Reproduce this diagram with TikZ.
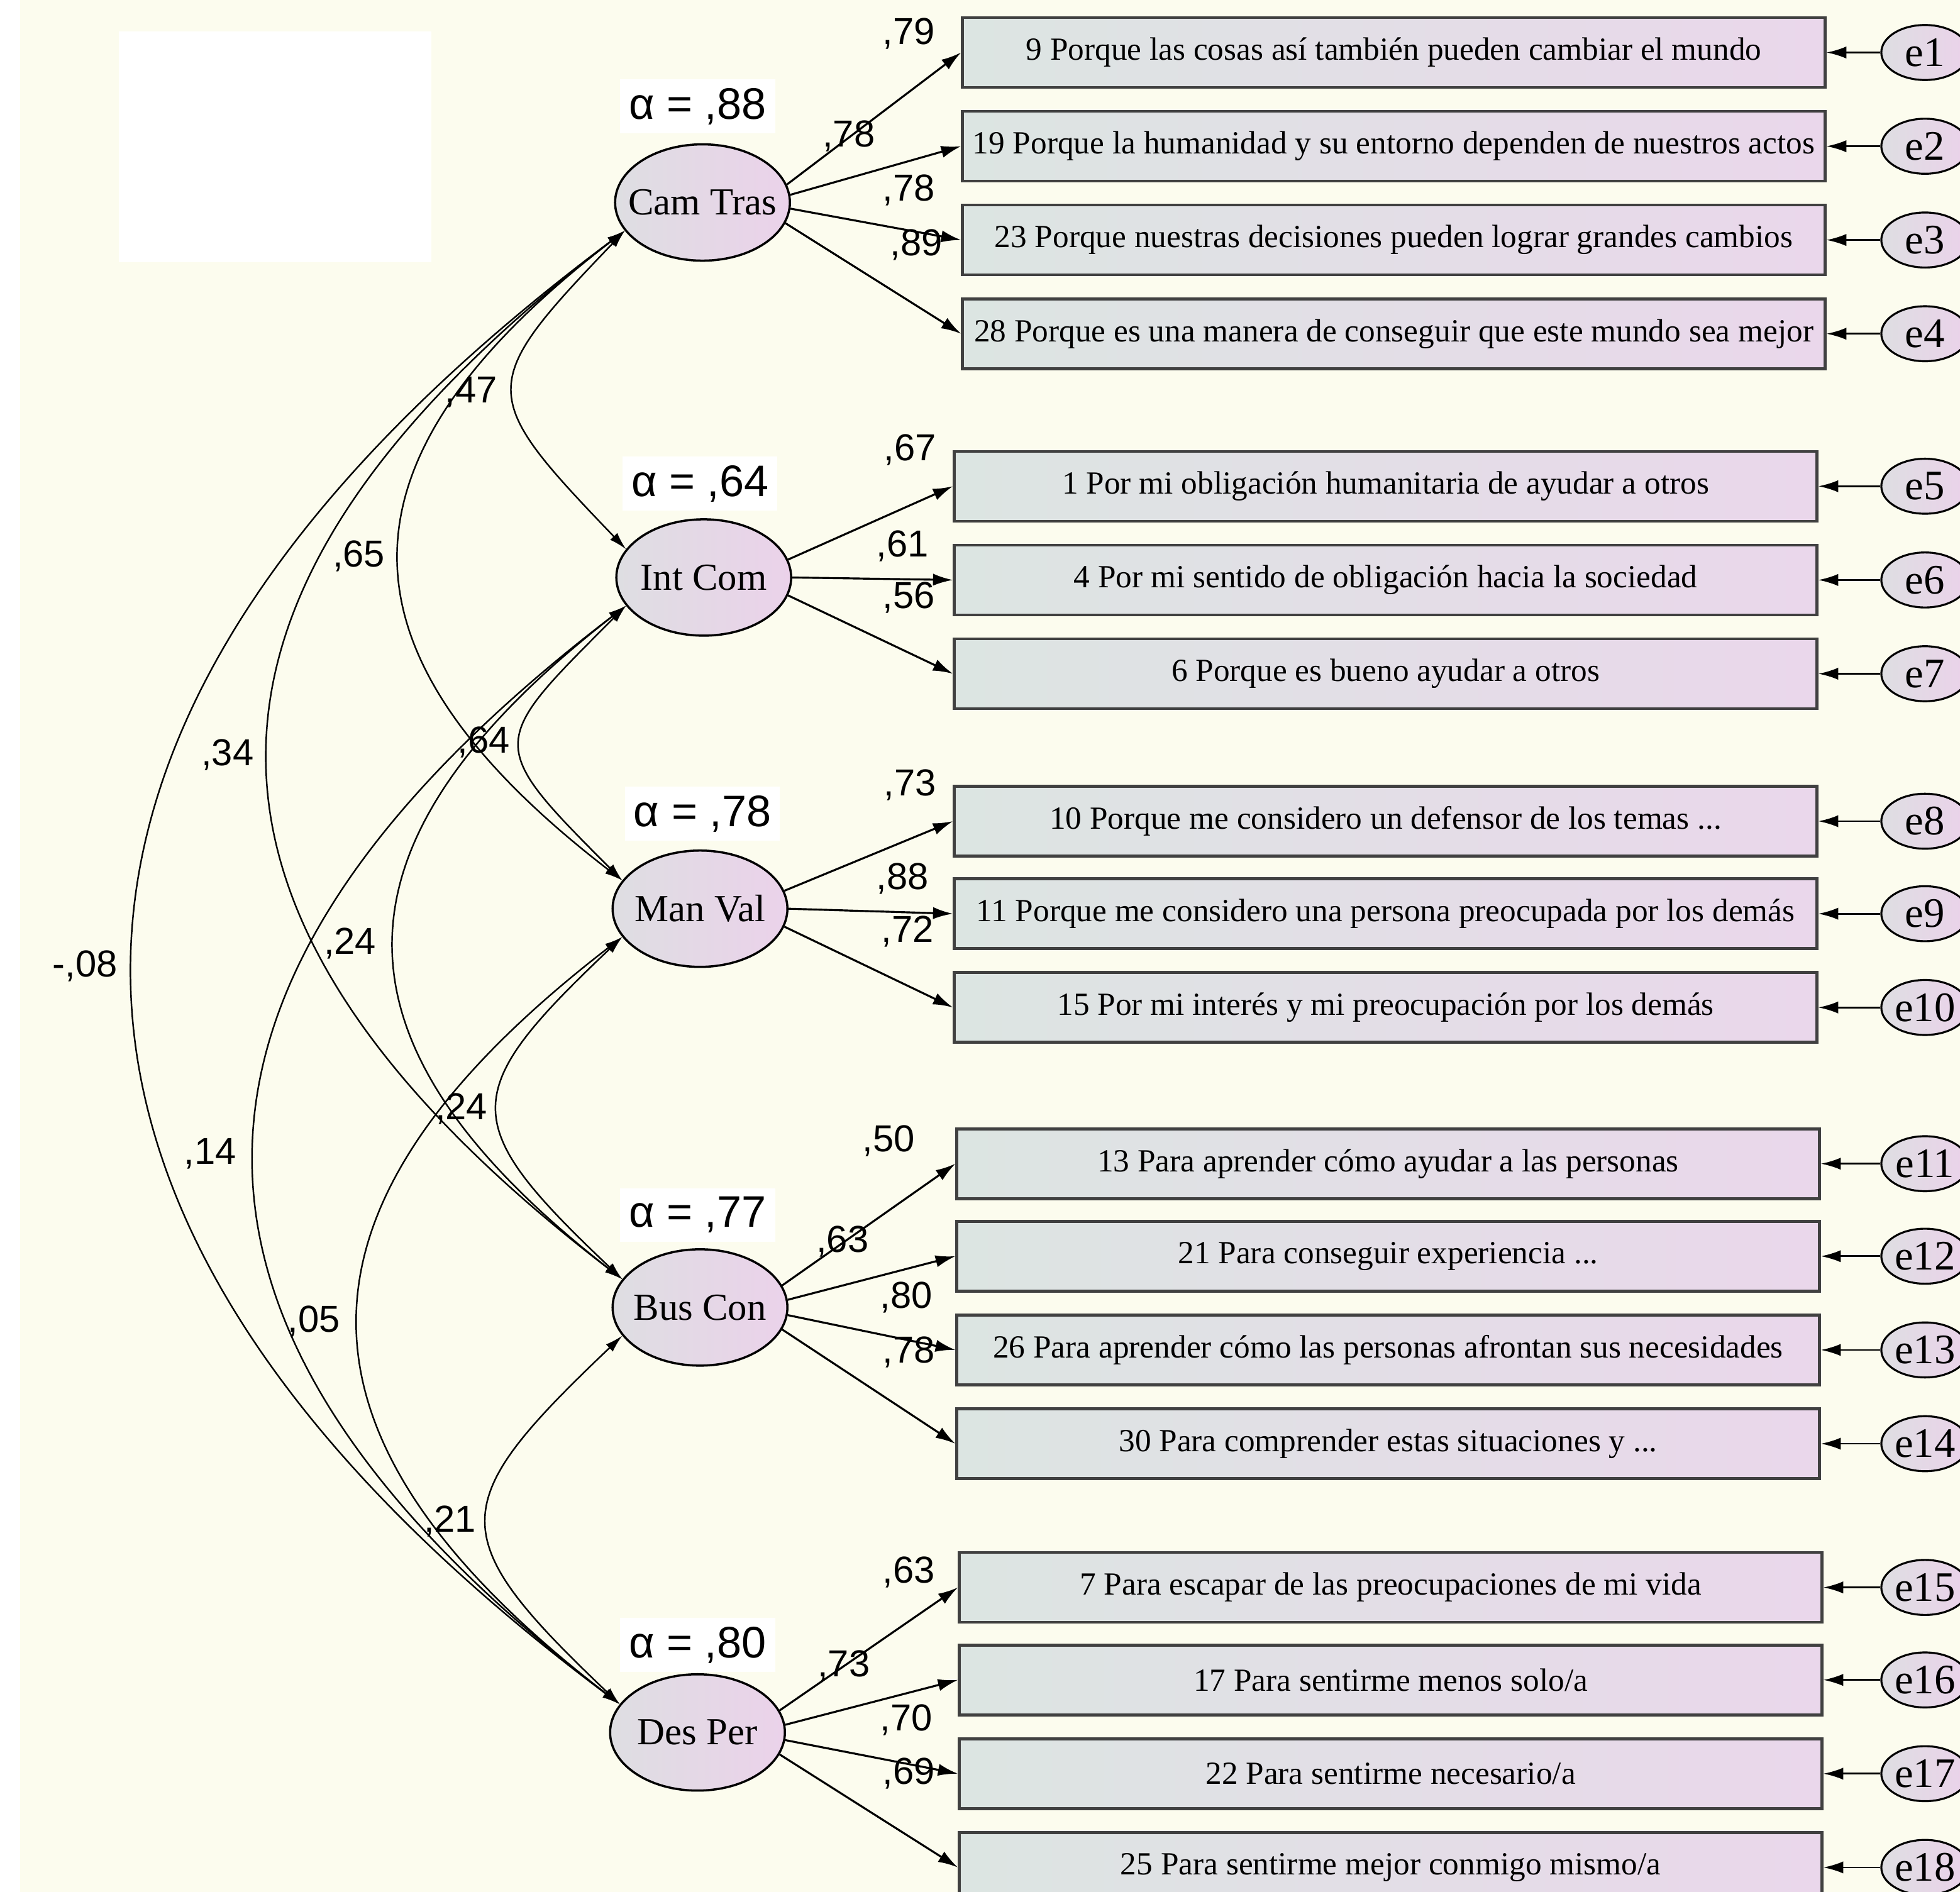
\documentclass[tikz,border=0pt]{standalone}
\usepackage{fontspec}
\setmainfont{Liberation Serif}
\newfontfamily\numfont{Liberation Sans}
\usepackage{tikz}
\usetikzlibrary{shapes,arrows.meta}
\definecolor{paper}{HTML}{FCFCEE}
\definecolor{itemgray}{HTML}{DCE5E2}
\definecolor{itempink}{HTML}{EAD7EB}
\definecolor{latgray}{HTML}{DEDEE2}
\definecolor{latpink}{HTML}{EBD2EA}
\definecolor{boxline}{HTML}{404040}

\tikzset{
  item/.style={rectangle, draw=boxline, line width=1.3pt, left color=itemgray, right color=itempink,
    minimum width=13.72cm, minimum height=1.11cm, inner sep=0pt, font=\fontsize{14.6}{14.6}\selectfont},
  latent/.style={ellipse, draw=black, line width=1pt, left color=latgray, right color=latpink,
    minimum width=2.78cm, minimum height=1.85cm, inner xsep=-8pt, inner ysep=0pt,
    font=\fontsize{17.3}{17.3}\selectfont},
  err/.style={ellipse, draw=black, line width=0.9pt, left color=latgray, right color=latpink,
    minimum width=1.39cm, minimum height=0.875cm, inner sep=0pt, font=\fontsize{19}{19}\selectfont},
  coef/.style={font=\numfont\fontsize{17}{17}\selectfont, inner sep=1pt},
  rel/.style={font=\numfont\fontsize{20}{20}\selectfont, fill=white, inner sep=4pt},
  load/.style={-{Latex[length=9pt,width=5.5pt]}, line width=0.9pt},
  errarr/.style={-{Latex[length=9pt,width=5.5pt]}, line width=0.8pt},
  cov/.style={{Latex[length=8pt,width=4.5pt]}-{Latex[length=8pt,width=4.5pt]}, line width=0.7pt},
}

\begin{document}
\begin{tikzpicture}[x=0.01988cm, y=-0.01988cm]
  \useasboundingbox (0,0) rectangle (1568,1513.6);
  \clip (0,0) rectangle (1568,1513.6);
  \fill[white] (0,0) rectangle (1568,1513.6);
  \fill[paper] (16,0) rectangle (1568,1513.6);
  \fill[white] (95,25) rectangle (345,210);

  % factors
  \node[latent] (cam) at (562,162) {Cam Tras};
  \node[latent] (int) at (563,462) {Int Com};
  \node[latent] (man) at (560,727) {Man Val};
  \node[latent] (bus) at (560,1046) {Bus Con};
  \node[latent] (des) at (558,1386) {Des Per};

  \node[rel] (acam) at (558,85) {α = ,88};
  \node[rel] (aint) at (560,387) {α = ,64};
  \node[rel] (aman) at (562,651) {α = ,78};
  \node[rel] (abus) at (558,972) {α = ,77};
  \node[rel] (ades) at (558,1316) {α = ,80};

  % items
  \node[item] (b9)  at (1115,42)  {9 Porque las cosas así también pueden cambiar el mundo};
  \node[item] (b19) at (1115,117) {19 Porque la humanidad y su entorno dependen de nuestros actos};
  \node[item] (b23) at (1115,192) {23 Porque nuestras decisiones pueden lograr grandes cambios};
  \node[item] (b28) at (1115,267) {28 Porque es una manera de conseguir que este mundo sea mejor};

  \node[item] (b1) at (1108.5,389) {1 Por mi obligación humanitaria de ayudar a otros};
  \node[item] (b4) at (1108.5,464) {4 Por mi sentido de obligación hacia la sociedad};
  \node[item] (b6) at (1108.5,539) {6 Porque es bueno ayudar a otros};

  \node[item] (b10) at (1108.5,657) {10 Porque me considero un defensor de los temas ...};
  \node[item] (b11) at (1108.5,731) {11 Porque me considero una persona preocupada por los demás};
  \node[item] (b15) at (1108.5,806) {15 Por mi interés y mi preocupación por los demás};

  \node[item] (b13) at (1110.5,931)  {13 Para aprender cómo ayudar a las personas};
  \node[item] (b21) at (1110.5,1005) {21 Para conseguir experiencia ...};
  \node[item] (b26) at (1110.5,1080) {26 Para aprender cómo las personas afrontan sus necesidades};
  \node[item] (b30) at (1110.5,1155) {30 Para comprender estas situaciones y ...};

  \node[item] (b7)  at (1112.5,1270) {7 Para escapar de las preocupaciones de mi vida};
  \node[item] (b17) at (1112.5,1344) {17 Para sentirme menos solo/a};
  \node[item] (b22) at (1112.5,1419) {22 Para sentirme necesario/a};
  \node[item] (b25) at (1112.5,1494) {25 Para sentirme mejor conmigo mismo/a};

  % errors
  \node[err] (e1)  at (1540,42)   {e1};
  \node[err] (e2)  at (1540,117)  {e2};
  \node[err] (e3)  at (1540,192)  {e3};
  \node[err] (e4)  at (1540,267)  {e4};
  \node[err] (e5)  at (1540,389)  {e5};
  \node[err] (e6)  at (1540,464)  {e6};
  \node[err] (e7)  at (1540,539)  {e7};
  \node[err] (e8)  at (1540,657)  {e8};
  \node[err] (e9)  at (1540,731)  {e9};
  \node[err] (e10) at (1540,806)  {e10};
  \node[err] (e11) at (1540,931)  {e11};
  \node[err] (e12) at (1540,1005) {e12};
  \node[err] (e13) at (1540,1080) {e13};
  \node[err] (e14) at (1540,1155) {e14};
  \node[err] (e15) at (1540,1270) {e15};
  \node[err] (e16) at (1540,1344) {e16};
  \node[err] (e17) at (1540,1419) {e17};
  \node[err] (e18) at (1540,1494) {e18};

  \draw[errarr] (e1) -- (b9.east);
  \draw[errarr] (e2) -- (b19.east);
  \draw[errarr] (e3) -- (b23.east);
  \draw[errarr] (e4) -- (b28.east);
  \draw[errarr] (e5) -- (b1.east);
  \draw[errarr] (e6) -- (b4.east);
  \draw[errarr] (e7) -- (b6.east);
  \draw[errarr] (e8) -- (b10.east);
  \draw[errarr] (e9) -- (b11.east);
  \draw[errarr] (e10) -- (b15.east);
  \draw[errarr] (e11) -- (b13.east);
  \draw[errarr] (e12) -- (b21.east);
  \draw[errarr] (e13) -- (b26.east);
  \draw[errarr] (e14) -- (b30.east);
  \draw[errarr] (e15) -- (b7.east);
  \draw[errarr] (e16) -- (b17.east);
  \draw[errarr] (e17) -- (b22.east);
  \draw[errarr] (e18) -- (b25.east);

  % loadings
  \draw[load] (cam.12) -- (b9.west);
  \draw[load] (cam.5) -- (b19.west);
  \draw[load] (cam.-4) -- (b23.west);
  \draw[load] (cam.-14) -- (b28.west);
  \draw[load] (int.12) -- (b1.west);
  \draw[load] (int.0) -- (b4.west);
  \draw[load] (int.-12) -- (b6.west);
  \draw[load] (man.12) -- (b10.west);
  \draw[load] (man.0) -- (b11.west);
  \draw[load] (man.-12) -- (b15.west);
  \draw[load] (bus.15) -- (b13.west);
  \draw[load] (bus.5) -- (b21.west);
  \draw[load] (bus.-5) -- (b26.west);
  \draw[load] (bus.-15) -- (b30.west);
  \draw[load] (des.15) -- (b7.west);
  \draw[load] (des.5) -- (b17.west);
  \draw[load] (des.-5) -- (b22.west);
  \draw[load] (des.-15) -- (b25.west);

  \node[coef] (l9)  at (727,27)  {,79};
  \node[coef] (l19) at (679,109) {,78};
  \node[coef] (l23) at (727,152) {,78};
  \node[coef] (l28) at (733,196) {,89};
  \node[coef] (l1)  at (728,360) {,67};
  \node[coef] (l4)  at (722,437) {,61};
  \node[coef] (l6)  at (727,478) {,56};
  \node[coef] (l10) at (728,628) {,73};
  \node[coef] (l11) at (722,703) {,88};
  \node[coef] (l15) at (726,745) {,72};
  \node[coef] (l13) at (711,913) {,50};
  \node[coef] (l21) at (674,993) {,63};
  \node[coef] (l26) at (725,1038) {,80};
  \node[coef] (l30) at (727,1082) {,78};
  \node[coef] (l7)  at (727,1258) {,63};
  \node[coef] (l17) at (675,1333) {,73};
  \node[coef] (l22) at (725,1376) {,70};
  \node[coef] (l25) at (727,1419) {,69};

  % covariances
  \draw[cov] (cam.200) .. controls +(-119,124) and +(-119,-124) .. (int.160);
  \draw[cov] (int.200) .. controls +(-110,110) and +(-110,-110) .. (man.160);
  \draw[cov] (man.200) .. controls +(-132,125) and +(-132,-125) .. (bus.160);
  \draw[cov] (bus.200) .. controls +(-142,135) and +(-142,-135) .. (des.160);
  \draw[cov] (cam.200) .. controls +(-238,183) and +(-238,-183) .. (man.160);
  \draw[cov] (int.200) .. controls +(-244,190) and +(-244,-190) .. (bus.160);
  \draw[cov] (man.200) .. controls +(-279,215) and +(-279,-215) .. (des.160);
  \draw[cov] (cam.200) .. controls +(-378,290) and +(-378,-290) .. (bus.160);
  \draw[cov] (int.200) .. controls +(-392,300) and +(-392,-300) .. (des.160);
  \draw[cov] (cam.200) .. controls +(-521,390) and +(-521,-390) .. (des.160);

  \node[coef] (ccamint) at (377,314)  {,47};
  \node[coef] (ccamman) at (287,445)  {,65};
  \node[coef] (ccambus) at (182,604)  {,34};
  \node[coef] (cintman) at (387,594)  {,64};
  \node[coef] (ccamdes) at (68,773)   {-,08};
  \node[coef] (cintbus) at (280,755)  {,24};
  \node[coef] (cmanbus) at (369,887)  {,24};
  \node[coef] (cintdes) at (168,923)  {,14};
  \node[coef] (cmandes) at (251,1057) {,05};
  \node[coef] (cbusdes) at (360,1217) {,21};
\end{tikzpicture}
\end{document}
